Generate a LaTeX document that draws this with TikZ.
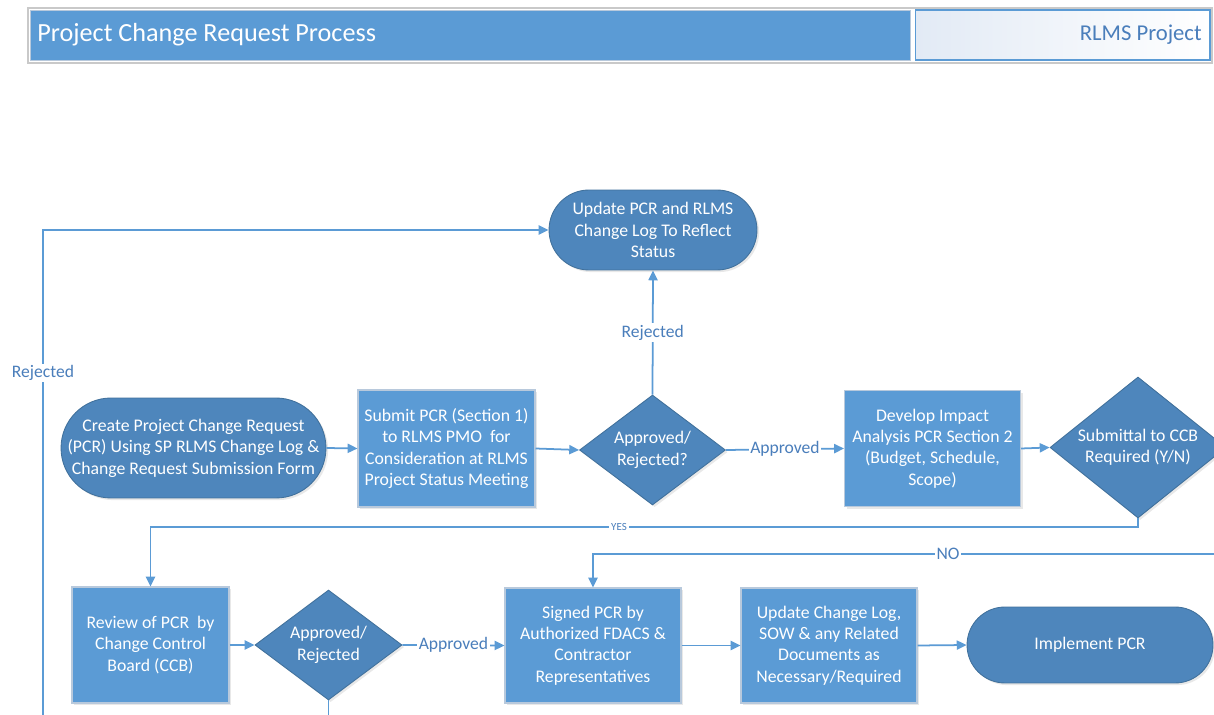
\documentclass[tikz,border=0pt]{standalone}
\usepackage{fontspec}
\setmainfont{Carlito}
\usetikzlibrary{arrows.meta,shapes.geometric,shadows}

\definecolor{boxblue}{HTML}{5B9BD5}
\definecolor{darkblue}{HTML}{4E86BC}
\definecolor{edgeblue}{HTML}{41719C}
\definecolor{boxedge}{HTML}{B8C9DC}
\definecolor{lineblue}{HTML}{5B9BD5}
\definecolor{lblblue}{HTML}{4A7EBB}
\definecolor{framegray}{HTML}{C9C9C9}
\definecolor{tabfill}{HTML}{E2EAF5}

% centred multi-line text that takes no width (keeps diamonds at their set size)
\newcommand{\ctext}[1]{\makebox[0pt]{\begin{tabular}{@{}c@{}}#1\end{tabular}}}

\tikzset{
  base/.style={text=white, font=\fontsize{10.1}{12.2}\selectfont, align=center, inner sep=0pt},
  softshadow/.style={drop shadow={opacity=0.18, shadow xshift=1.2pt, shadow yshift=-1.2pt, fill=gray}},
  procbox/.style={base, rectangle, fill=boxblue, draw=boxedge, line width=0.6pt, softshadow},
  termbox/.style={base, rectangle, fill=darkblue, draw=edgeblue, line width=0.5pt, softshadow},
  decbox/.style={base, diamond, fill=darkblue, draw=edgeblue, line width=0.5pt, softshadow},
  flow/.style={draw=lineblue, line width=1pt, -{Triangle[length=5.6pt,width=5.2pt]}},
  lbl/.style={fill=white, text=lblblue, font=\fontsize{10}{12}\selectfont, inner sep=1pt},
  smalllbl/.style={fill=white, text=lblblue, font=\fontsize{6.2}{7}\selectfont, inner sep=1pt}
}

\begin{document}
\begin{tikzpicture}[x=0.02cm, y=-0.02cm]
  \useasboundingbox (0,0) rectangle (1214,715);
  \fill[white] (0,0) rectangle (1214,715);
  \clip (0,0) rectangle (1214,715);

  % ---- header band ----
  \draw[framegray, line width=0.6pt] (28,8) rectangle (1212,63);
  \node[rectangle, fill=boxblue, draw=boxedge, line width=0.5pt,
        minimum width=17.62cm, minimum height=1cm, inner sep=0pt] (titlebar) at (470.5,35) {};
  \node[anchor=west, text=white, inner sep=0pt, font=\fontsize{14.9}{16}\selectfont]
        (title) at (37,35) {Project Change Request Process};
  \node[rectangle, left color=tabfill, right color=white, draw=boxblue, line width=0.6pt,
        minimum width=5.9cm, minimum height=1cm, inner sep=0pt] (tab) at (1062.5,35) {};
  \node[anchor=east, text=lblblue, inner sep=0pt, font=\fontsize{12.9}{14}\selectfont]
        (tabtext) at (1202,35) {RLMS Project};

  % ---- first row ----
  \node[termbox, minimum width=4.16cm, minimum height=1.6cm, rounded corners=0.8cm]
        (update) at (653,230) {Update PCR and RLMS\\Change Log To Reflect\\Status};
  \node[termbox, minimum width=5.3cm, minimum height=2cm, rounded corners=1cm]
        (create) at (193.5,448) {Create Project Change Request\\(PCR) Using SP RLMS Change Log \&\\Change Request Submission Form};
  \node[procbox, minimum width=3.54cm, minimum height=2.34cm]
        (submit) at (446.5,448.5) {Submit PCR (Section 1)\\to RLMS PMO\ \ for\\Consideration at RLMS\\Project Status Meeting};
  \node[decbox, minimum width=2.92cm, minimum height=2.2cm]
        (dec1) at (652.5,450) {\ctext{Approved/\\Rejected?}};
  \node[procbox, minimum width=3.52cm, minimum height=2.32cm]
        (develop) at (932.5,448.5) {Develop Impact\\Analysis PCR Section 2\\(Budget, Schedule,\\Scope)};
  \node[decbox, minimum width=3.52cm, minimum height=2.82cm]
        (dec2) at (1138,447.5) {\ctext{Submittal to CCB\\Required (Y/N)}};

  % ---- second row ----
  \node[procbox, minimum width=3.14cm, minimum height=2.32cm]
        (review) at (150.5,645) {Review of PCR\ \ by\\Change Control\\Board (CCB)};
  \node[decbox, minimum width=2.94cm, minimum height=2.2cm]
        (dec3) at (328.5,645) {\ctext{Approved/\\Rejected}};
  \node[procbox, minimum width=3.52cm, minimum height=2.3cm]
        (signed) at (593,645.5) {Signed PCR by\\Authorized FDACS \&\\Contractor\\Representatives};
  \node[procbox, minimum width=3.52cm, minimum height=2.3cm]
        (changelog) at (829,645.5) {Update Change Log,\\SOW \& any Related\\Documents as\\Necessary/Required};
  \node[termbox, minimum width=4.92cm, minimum height=1.52cm, rounded corners=0.76cm]
        (implement) at (1090,645) {Implement PCR};

  % ---- route corners running past the page edge ----
  \coordinate (rejdown)  at (328.5,745);
  \coordinate (rejleft)  at (43,745);
  \coordinate (rejlbl)   at (43,373);
  \coordinate (rejtop)   at (43,230);
  \coordinate (yesdown)  at (1138,527);
  \coordinate (yeslbl)   at (619,527);
  \coordinate (yesleft)  at (150.5,527);
  \coordinate (noright)  at (1245,447.5);
  \coordinate (nodown)   at (1245,554);
  \coordinate (nolbl)    at (948,554);

  % ---- connectors ----
  \draw[flow] (create.east) -- (submit.west);
  \draw[flow] (submit.east) -- (dec1.west);
  \draw[flow] (dec1.east) -- node[lbl] {Approved} (develop.west);
  \draw[flow] (dec1.north) -- node[lbl] {Rejected} (update.south);
  \draw[flow] (develop.east) -- (dec2.west);

  \draw[flow] (dec2.south) -- (yesdown) -- (yeslbl) node[smalllbl] {YES} -- (yesleft) -- (review.north);
  \draw[flow] (dec2.east) -- (noright) -- (nodown) -- (nolbl) node[lbl] {NO} -| (signed.north);

  \draw[flow] (review.east) -- (dec3.west);
  \draw[flow] (dec3.east) -- node[lbl] {Approved} (signed.west);
  \draw[flow] (signed.east) -- (changelog.west);
  \draw[flow] (changelog.east) -- (implement.west);

  \draw[flow] (dec3.south) -- (rejdown) -- (rejleft) -- (rejlbl) node[lbl] {Rejected} -- (rejtop) -- (update.west);
\end{tikzpicture}
\end{document}
